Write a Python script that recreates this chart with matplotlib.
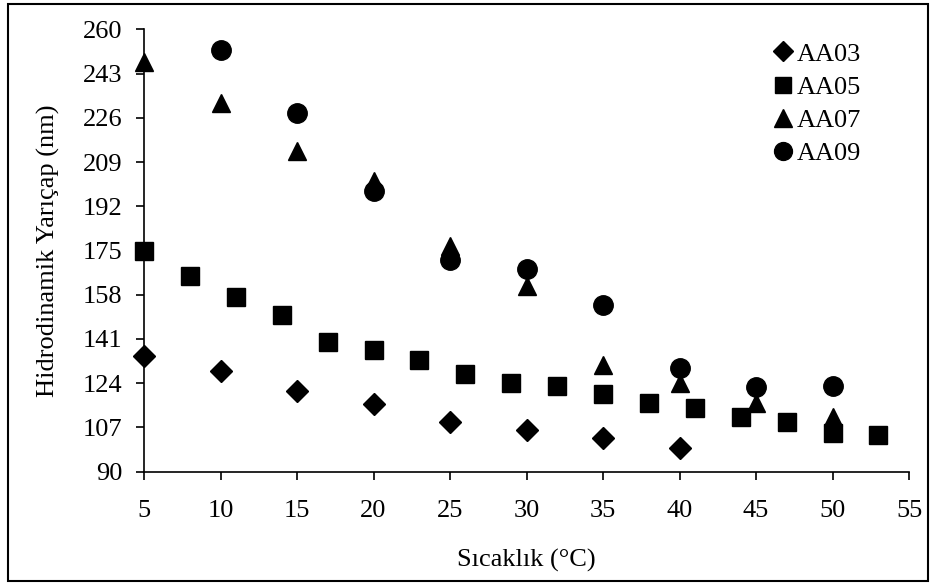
import matplotlib
matplotlib.use("Agg")
import matplotlib.pyplot as plt
from matplotlib.patches import Rectangle

plt.rcParams['font.family'] = ['Liberation Serif', 'DejaVu Serif']

# Hydrodynamic radius (nm) versus temperature (°C) for four samples
aa03_t = [5, 10, 15, 20, 25, 30, 35, 40]
aa03_r = [134.6, 128.7, 121.0, 116.0, 109.0, 106.0, 103.0, 99.0]

aa05_t = [5, 8, 11, 14, 17, 20, 23, 26, 29, 32, 35, 38, 41, 44, 47, 50, 53]
aa05_r = [175.0, 165.2, 157.3, 150.2, 140.0, 136.8, 132.9, 127.4, 124.0,
          122.9, 120.0, 116.3, 114.4, 111.1, 109.2, 104.7, 104.1]

aa07_t = [5, 10, 15, 20, 25, 30, 35, 40, 45, 50]
aa07_r = [247.5, 231.6, 213.4, 201.8, 176.9, 161.4, 131.0, 124.2, 116.5, 111.0]

aa09_t = [10, 15, 20, 25, 30, 35, 40, 45, 50]
aa09_r = [252.0, 228.0, 198.0, 171.4, 167.8, 154.0, 130.0, 122.7, 122.9]

x_ticks = [5, 10, 15, 20, 25, 30, 35, 40, 45, 50, 55]
y_ticks = [90, 107, 124, 141, 158, 175, 192, 209, 226, 243, 260]

W, H = 933, 583
FS = 19
fig = plt.figure(figsize=(W / 100, H / 100), dpi=100)
ax = fig.add_axes([144 / W, 1 - 471.7 / H, (909 - 144) / W, (471.7 - 29.3) / H])

ax.plot(aa03_t, aa03_r, linestyle='none', marker='D', ms=11.5, color='black', label='AA03', clip_on=False)
ax.plot(aa05_t, aa05_r, linestyle='none', marker='s', ms=13, color='black', label='AA05', clip_on=False)
ax.plot(aa07_t, aa07_r, linestyle='none', marker='^', ms=13.5, color='black', label='AA07', clip_on=False)
ax.plot(aa09_t, aa09_r, linestyle='none', marker='o', ms=14, color='black', label='AA09', clip_on=False)

ax.set_xlim(5, 55)
ax.set_ylim(90, 260)
ax.set_xticks(x_ticks)
ax.set_yticks(y_ticks)
ax.tick_params(direction='out', length=5.5, width=1.2, labelsize=FS, colors='black')
ax.tick_params(axis='y', pad=10)
ax.tick_params(axis='x', pad=15)
for side in ('top', 'right'):
    ax.spines[side].set_visible(False)
for side in ('left', 'bottom'):
    ax.spines[side].set_linewidth(1.2)

ax.set_xlabel('Sıcaklık (°C)', fontsize=FS, labelpad=19)
ax.set_ylabel('Hidrodinamik Yarıçap (nm)', fontsize=FS, labelpad=16)

ax.legend(loc='upper left', bbox_to_anchor=(761 / W, 1 - 29 / H),
          bbox_transform=fig.transFigure, frameon=False, fontsize=FS,
          handlelength=0.7, handletextpad=0.15, labelspacing=0.37,
          borderpad=0, markerscale=0.92)

fig.patches.append(Rectangle((8 / W, 1 - 581 / H), (928 - 8) / W, (581 - 4) / H,
                             transform=fig.transFigure, fill=False,
                             edgecolor='black', linewidth=1.5))

fig.savefig('out.png', dpi=100)
